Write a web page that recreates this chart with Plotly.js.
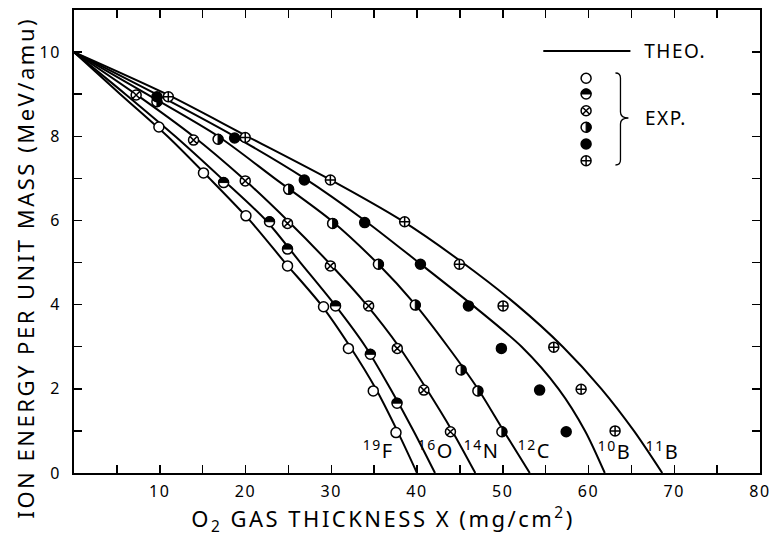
<!DOCTYPE html>
<html><head><meta charset="utf-8">
<script src="https://cdn.plot.ly/plotly-3.0.1.min.js"></script>
<style>
body{margin:0;background:#fff}
.xtick text,.ytick text{letter-spacing:1.5px}
</style>
</head><body>
<div id="chart" style="width:774px;height:537px"></div>
<script>
// ---------- data ----------
const theoE  = [10, 9, 8, 7, 6, 5, 4, 3, 2, 1, 0];
const theoF  = [0, 5.4, 10.9, 15.8, 20.5, 24.6, 28.8, 32.2, 35.2, 37.7, 40.0];
const theoO  = [0, 6.0, 11.8, 17.2, 22.4, 26.4, 30.4, 34.0, 36.9, 39.6, 42.1];
const theoN  = [0, 7.2, 13.9, 19.7, 24.9, 29.7, 34.1, 37.9, 41.1, 44.1, 46.8];
const theoC  = [0, 8.5, 16.8, 23.4, 30.0, 35.3, 39.8, 43.6, 47.1, 50.1, 53.15];
const theoB10 = [0, 9.6, 18.7, 26.9, 33.9, 40.2, 46.4, 52.2, 56.5, 59.6, 61.9];
const theoB11 = [0, 10.8, 20.2, 29.6, 38.2, 45.3, 51.6, 57.0, 61.5, 65.3, 68.6];

const expF_x = [9.9, 15.1, 20.05, 24.9, 29.1, 32.0, 34.9, 37.55];
const expF_y = [8.22, 7.13, 6.11, 4.92, 3.95, 2.96, 1.95, 0.96];
const expO_x = [17.45, 22.8, 24.9, 30.5, 34.56, 37.67];
const expO_y = [6.9, 5.97, 5.32, 3.97, 2.82, 1.66];
const expN_x = [7.25, 13.94, 19.97, 24.9, 29.9, 34.36, 37.7, 40.8, 43.9];
const expN_y = [8.98, 7.91, 6.94, 5.93, 4.92, 3.97, 2.96, 1.97, 0.98];
const expC_x = [9.67, 16.8, 25.03, 30.16, 35.5, 39.8, 45.14, 47.1, 49.9];
const expC_y = [8.82, 7.93, 6.74, 5.93, 4.96, 3.99, 2.45, 1.95, 0.98];
const expB10_x = [9.67, 18.73, 26.86, 33.9, 40.4, 46.0, 49.84, 54.3, 57.4];
const expB10_y = [8.94, 7.96, 6.96, 5.95, 4.96, 3.97, 2.96, 1.97, 0.98];
const expB11_x = [11.0, 19.97, 29.9, 38.56, 44.94, 50.04, 55.95, 59.14, 63.1];
const expB11_y = [8.94, 7.97, 6.96, 5.97, 4.96, 3.97, 2.99, 1.99, 1.0];

const ionLabels = ['<sup>19</sup>F', '<sup>16</sup>O', '<sup>14</sup>N', '<sup>12</sup>C', '<sup>10</sup>B', '<sup>11</sup>B'];

const xTickVals = [0,5,10,15,20,25,30,35,40,45,50,55,60,65,70,75,80];
const xTickText = ['','','10','','20','','30','','40','','50','','60','','70','','80'];
const yTickVals = [0,1,2,3,4,5,6,7,8,9,10];
const yTickText = ['0','','2','','4','','6','','8','','10'];

// ---------- styles ----------
const K = 'black';
const lineStyle = {color: K, width: 2, shape: 'spline', smoothing: 0.8};
// half-filled circles: white circle marked with a sentinel fill, black half added after drawing
const HALF_TOP = 'rgb(254, 255, 255)';
const HALF_RIGHT = 'rgb(255, 255, 254)';
const markerStyles = [
  {symbol: 'circle', color: 'white'},
  {symbol: 'circle', color: HALF_TOP},
  {symbol: 'circle-x', color: 'white'},
  {symbol: 'circle', color: HALF_RIGHT},
  {symbol: 'circle', color: K},
  {symbol: 'circle-cross', color: 'white'}
];
const MS = 10;

function expTrace(xs, ys, st, xa, ya) {
  return {x: xs, y: ys, type: 'scatter', mode: 'markers', xaxis: xa, yaxis: ya,
    hoverinfo: 'skip', cliponaxis: false,
    marker: {symbol: st.symbol, size: MS, color: st.color, line: {color: K, width: 1.5}}};
}

const theo = [theoF, theoO, theoN, theoC, theoB10, theoB11];
const expX = [expF_x, expO_x, expN_x, expC_x, expB10_x, expB11_x];
const expY = [expF_y, expO_y, expN_y, expC_y, expB10_y, expB11_y];

const traces = [];
theo.forEach(xs => traces.push({x: xs, y: theoE, type: 'scatter', mode: 'lines', line: lineStyle, hoverinfo: 'skip'}));
expX.forEach((xs, i) => traces.push(expTrace(xs, expY[i], markerStyles[i], 'x', 'y')));

// legend glyph column (overlay axes spanning the plot area 0..1)
const legX = 0.7465;
const legY = [0.8525, 0.8186, 0.7825, 0.7467, 0.7106, 0.6745];
markerStyles.forEach((st, i) => traces.push(expTrace([legX], [legY[i]], st, 'x2', 'y2')));

// ion label positions (data coords of label centres)
const labelPos = [[35.5, 0.56], [42.2, 0.56], [47.5, 0.56], [53.7, 0.56], [63.0, 0.54], [68.6, 0.54]];

const annotations = ionLabels.map((t, i) => ({
  text: t, x: labelPos[i][0], y: labelPos[i][1], xref: 'x', yref: 'y',
  showarrow: false, font: {size: 20, color: K}, xanchor: 'center', yanchor: 'middle'
}));
annotations.push({text: 'THEO.', xref: 'paper', yref: 'paper', x: 0.8345, y: 0.9114, xanchor: 'left', yanchor: 'middle', showarrow: false, font: {size: 19, color: K}});
annotations.push({text: 'EXP.', xref: 'paper', yref: 'paper', x: 0.8345, y: 0.7667, xanchor: 'left', yanchor: 'middle', showarrow: false, font: {size: 19, color: K}});
annotations.push({text: 'ION ENERGY PER UNIT MASS (MeV/amu)', xref: 'paper', yref: 'paper', x: -0.0712, y: 0.443, textangle: -90, xanchor: 'center', yanchor: 'middle', showarrow: false, font: {size: 22, color: K}});
annotations.push({text: 'O<sub>2</sub> GAS THICKNESS X (mg/cm<sup>2</sup>)', xref: 'paper', yref: 'paper', x: 0.451, y: -0.1015, xanchor: 'center', yanchor: 'middle', showarrow: false, font: {size: 22, color: K}});

const shapes = [
  {type: 'line', xref: 'paper', yref: 'paper', x0: 0.6841, x1: 0.8111, y0: 0.9114, y1: 0.9114, line: {color: K, width: 2}},
  {type: 'path', xref: 'paper', yref: 'paper', line: {color: K, width: 1.3},
   path: 'M 0.7893 0.8639 Q 0.7966 0.8639 0.7966 0.8531 L 0.7966 0.7797 Q 0.7966 0.7667 0.8082 0.7667 Q 0.7966 0.7667 0.7966 0.7538 L 0.7966 0.6760 Q 0.7966 0.6652 0.7893 0.6652'}
];

const axisCommon = {
  ticks: 'inside', ticklen: 8, tickwidth: 1.5, tickcolor: K,
  showline: true, linewidth: 2, linecolor: K, mirror: 'ticks',
  showgrid: false, zeroline: false, tickfont: {size: 16, color: K},
  tickmode: 'array', fixedrange: true
};

const layout = {
  width: 774, height: 537,
  margin: {l: 74, r: 14, t: 10, b: 64, pad: 0},
  paper_bgcolor: 'white', plot_bgcolor: 'white',
  showlegend: false,
  font: {family: 'Noto Sans, sans-serif', color: K},
  xaxis: Object.assign({}, axisCommon, {range: [0, 80], tickvals: xTickVals, ticktext: xTickText, ticklabelstandoff: 3}),
  yaxis: Object.assign({}, axisCommon, {range: [0, 11], tickvals: yTickVals, ticktext: yTickText, ticklabelstandoff: 8}),
  xaxis2: {overlaying: 'x', range: [0, 1], visible: false, fixedrange: true},
  yaxis2: {overlaying: 'y', range: [0, 1], visible: false, fixedrange: true},
  annotations: annotations,
  shapes: shapes
};

Plotly.newPlot('chart', traces, layout, {staticPlot: true}).then(() => {
  document.querySelectorAll('.annotation-text').forEach(el => {
    const s = el.textContent;
    el.style.letterSpacing = (s.indexOf('GAS') >= 0 || s.indexOf('ENERGY') >= 0) ? '2.5px' : '1.5px';
  });
  const r = MS / 2;
  const halfTop = 'M' + (-r) + ',0A' + r + ',' + r + ' 0 0,1 ' + r + ',0Z';
  const halfRight = 'M0,' + (-r) + 'A' + r + ',' + r + ' 0 0,1 0,' + r + 'Z';
  document.querySelectorAll('path.point').forEach(p => {
    const f = p.style.fill.replace(/\s/g, '');
    let d = null;
    if (f === HALF_TOP.replace(/\s/g, '')) d = halfTop;
    else if (f === HALF_RIGHT.replace(/\s/g, '')) d = halfRight;
    if (!d) return;
    p.style.fill = 'white';
    const h = document.createElementNS('http://www.w3.org/2000/svg', 'path');
    h.setAttribute('d', d);
    h.setAttribute('transform', p.getAttribute('transform'));
    h.style.fill = K; h.style.stroke = K; h.style.strokeWidth = '1px';
    p.parentNode.insertBefore(h, p.nextSibling);
  });
});
</script>
</body></html>
